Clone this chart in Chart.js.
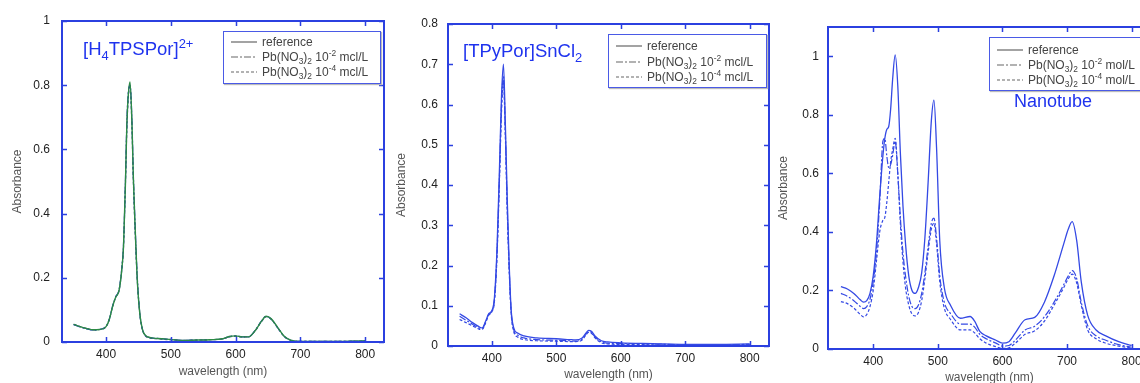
<!DOCTYPE html>
<html>
<head>
<meta charset="utf-8">
<script src="https://cdn.jsdelivr.net/npm/chart.js@4.4.0/dist/chart.umd.min.js"></script>
<style>
html, body { margin: 0; padding: 0; background: #fff; overflow: hidden; width: 1140px; height: 383px; }
body { position: relative; font-family: "Liberation Sans", Arial, sans-serif; }
canvas { position: absolute; top: 0; }
.legend { position: absolute; border: 1.5px solid #4a5ae6; box-shadow: 1px 1px 1px #bbb; background: #fff; font-size: 12px; color: #444; z-index: 2; }
.legend .row { position: absolute; left: 0; height: 14px; white-space: nowrap; }
.legend svg { position: absolute; left: 7px; top: 3px; }
.legend .t { position: absolute; left: 38px; top: 0; line-height: 14px; }
sub, sup { font-size: 70%; line-height: 0; }
.title { position: absolute; color: #1f33ee; font-size: 18.5px; white-space: nowrap; z-index: 2; }
</style>
</head>
<body>
<canvas id="c1" width="392" height="383" style="left:0px"></canvas>
<canvas id="c2" width="388" height="383" style="left:390px"></canvas>
<canvas id="c3" width="384" height="383" style="left:776px"></canvas>

<div class="title" style="left:83px;top:38px">[H<sub>4</sub>TPSPor]<sup>2+</sup></div>
<div class="title" style="left:463px;top:40px">[TPyPor]SnCl<sub>2</sub></div>
<div class="title" style="left:1014px;top:91px;font-size:18px">Nanotube</div>

<div id="lg1" class="legend" style="left:223px;top:31px;width:156px;height:51px"></div>
<div id="lg2" class="legend" style="left:608px;top:34px;width:157px;height:52px"></div>
<div id="lg3" class="legend" style="left:989px;top:37px;width:170px;height:52px"></div>

<script>
// ---- data (wavelength in nm, absorbance) ----

// [H4TPSPor]2+
var wl1 = [350,360,370,380,390,400,405,410,415,420,424,427,430,432,434,437,440,442,445,448,452,456,460,470,480,500,520,540,560,580,590,600,610,620,630,640,647,655,665,675,685,700,750,800];
var ref1 = [0.055,0.048,0.042,0.038,0.039,0.048,0.07,0.11,0.14,0.16,0.22,0.30,0.50,0.67,0.76,0.81,0.68,0.52,0.35,0.20,0.09,0.04,0.022,0.013,0.011,0.008,0.005,0.006,0.007,0.010,0.017,0.019,0.016,0.016,0.035,0.065,0.080,0.072,0.045,0.018,0.006,0.002,0.002,0.003];
var pbHigh1 = [0.054,0.047,0.041,0.037,0.039,0.049,0.071,0.112,0.142,0.162,0.225,0.31,0.51,0.68,0.77,0.80,0.69,0.53,0.36,0.21,0.092,0.041,0.022,0.013,0.011,0.008,0.005,0.006,0.007,0.010,0.017,0.019,0.016,0.016,0.036,0.066,0.080,0.071,0.044,0.017,0.006,0.002,0.002,0.003];
var pbLow1 = [0.055,0.048,0.042,0.038,0.039,0.048,0.070,0.110,0.140,0.160,0.220,0.30,0.50,0.66,0.75,0.80,0.67,0.51,0.34,0.20,0.090,0.040,0.021,0.012,0.010,0.007,0.005,0.006,0.007,0.010,0.016,0.018,0.016,0.016,0.035,0.064,0.079,0.071,0.044,0.017,0.005,0.002,0.002,0.003];

// [TPyPor]SnCl2
var wl2 = [350,360,370,380,385,390,395,400,404,408,412,415,418,421,424,427,430,434,440,450,470,500,520,530,540,545,550,555,560,570,580,600,650,700,750,800];
var ref2 = [0.080,0.070,0.058,0.048,0.045,0.060,0.080,0.088,0.120,0.240,0.450,0.620,0.700,0.550,0.360,0.200,0.090,0.045,0.032,0.025,0.020,0.018,0.016,0.015,0.020,0.030,0.039,0.036,0.025,0.013,0.010,0.008,0.006,0.004,0.004,0.005];
var pbHigh2 = [0.074,0.064,0.054,0.045,0.043,0.058,0.078,0.086,0.115,0.230,0.430,0.600,0.670,0.530,0.340,0.190,0.085,0.040,0.027,0.020,0.016,0.014,0.013,0.012,0.017,0.027,0.036,0.033,0.022,0.010,0.007,0.006,0.005,0.003,0.003,0.004];
var pbLow2 = [0.066,0.058,0.050,0.042,0.041,0.056,0.076,0.085,0.110,0.220,0.420,0.580,0.655,0.520,0.330,0.185,0.080,0.036,0.022,0.016,0.013,0.012,0.011,0.011,0.015,0.025,0.034,0.031,0.020,0.008,0.005,0.004,0.003,0.002,0.002,0.003];

// Nanotube
var wl3 = [350,360,370,380,385,390,395,400,405,410,415,418,421,424,427,430,434,438,442,446,450,455,460,465,470,475,480,485,490,494,498,503,510,520,535,550,557,565,575,590,600,610,620,635,650,665,680,695,702,708,715,722,732,745,760,780,800];
var ref3 = [0.213,0.205,0.190,0.168,0.160,0.165,0.190,0.250,0.360,0.520,0.660,0.720,0.750,0.760,0.820,0.920,1.005,0.900,0.670,0.490,0.360,0.250,0.200,0.190,0.210,0.260,0.380,0.570,0.780,0.850,0.690,0.370,0.210,0.148,0.105,0.111,0.095,0.060,0.045,0.030,0.020,0.025,0.055,0.100,0.108,0.160,0.250,0.360,0.410,0.435,0.370,0.230,0.115,0.065,0.045,0.025,0.012];
var pbHigh3 = [0.190,0.180,0.165,0.145,0.138,0.145,0.170,0.230,0.330,0.500,0.710,0.720,0.660,0.620,0.630,0.660,0.710,0.600,0.450,0.330,0.250,0.180,0.145,0.138,0.150,0.190,0.260,0.350,0.430,0.447,0.380,0.250,0.160,0.120,0.085,0.085,0.075,0.050,0.035,0.020,0.010,0.012,0.030,0.065,0.078,0.110,0.160,0.220,0.250,0.268,0.240,0.160,0.080,0.045,0.030,0.015,0.006];
var pbLow3 = [0.162,0.155,0.140,0.118,0.110,0.118,0.145,0.200,0.300,0.400,0.440,0.450,0.500,0.570,0.640,0.680,0.720,0.600,0.430,0.300,0.210,0.150,0.120,0.113,0.125,0.165,0.240,0.330,0.410,0.430,0.360,0.230,0.140,0.100,0.065,0.065,0.055,0.035,0.020,0.008,0.002,0.004,0.020,0.050,0.062,0.095,0.150,0.210,0.240,0.256,0.225,0.150,0.065,0.035,0.020,0.010,0.003];

// axis ticks
var xTicks = [400, 500, 600, 700, 800];
var yTicks1 = [0, 0.2, 0.4, 0.6, 0.8, 1];
var yTicks2 = [0, 0.1, 0.2, 0.3, 0.4, 0.5, 0.6, 0.7, 0.8];
var yTicks3 = [0, 0.2, 0.4, 0.6, 0.8, 1];

// legend entries
var legendLabels = [
    'reference',
    'Pb(NO<sub>3</sub>)<sub>2</sub> 10<sup>-2</sup> mcl/L',
    'Pb(NO<sub>3</sub>)<sub>2</sub> 10<sup>-4</sup> mcl/L'
];
var legendLabels3 = [
    'reference',
    'Pb(NO<sub>3</sub>)<sub>2</sub> 10<sup>-2</sup> mol/L',
    'Pb(NO<sub>3</sub>)<sub>2</sub> 10<sup>-4</sup> mol/L'
];

var frameColor = '#2b40e0';
var solid = [], dashDot = [7, 2, 2, 2], dashed = [3, 2];

Chart.defaults.font.family = "'Liberation Sans', Arial, sans-serif";

// frame round the plot area with inward ticks on all four sides
var frameTicks = {
    id: 'frameTicks',
    afterDatasetsDraw: function(chart) {
        var ctx = chart.ctx, a = chart.chartArea;
        var x = chart.scales.x, y = chart.scales.y;
        ctx.save();
        ctx.strokeStyle = frameColor;
        ctx.lineWidth = 1.5;
        ctx.beginPath();
        x.ticks.forEach(function(t) {
            var px = Math.round(x.getPixelForValue(t.value)) + 0.5;
            ctx.moveTo(px, a.bottom); ctx.lineTo(px, a.bottom - 5);
            ctx.moveTo(px, a.top); ctx.lineTo(px, a.top + 5);
        });
        y.ticks.forEach(function(t) {
            var py = Math.round(y.getPixelForValue(t.value)) + 0.5;
            ctx.moveTo(a.left, py); ctx.lineTo(a.left + 5, py);
            ctx.moveTo(a.right, py); ctx.lineTo(a.right - 5, py);
        });
        ctx.stroke();
        ctx.lineWidth = 2;
        ctx.strokeRect(a.left, a.top, a.right - a.left, a.bottom - a.top);
        ctx.restore();
    }
};

function makeChart(id, cfg) {
    var datasets = cfg.series.map(function(s) {
        return {
            label: s.label,
            data: cfg.wl.map(function(w, i) { return {x: w, y: s.values[i]}; }),
            borderColor: s.color,
            borderWidth: s.width,
            borderDash: s.dash,
            pointRadius: 0,
            fill: false,
            cubicInterpolationMode: 'monotone'
        };
    });
    return new Chart(document.getElementById(id), {
        type: 'line',
        data: { datasets: datasets },
        options: {
            responsive: false,
            animation: false,
            events: [],
            layout: { padding: { top: cfg.padTop, right: cfg.padRight, left: 0, bottom: 0 } },
            plugins: { legend: { display: false }, tooltip: { enabled: false } },
            scales: {
                x: {
                    type: 'linear', min: cfg.xMin, max: cfg.xMax,
                    grid: { display: false, drawTicks: false }, border: { display: false },
                    afterBuildTicks: function(s) { s.ticks = xTicks.map(function(v) { return {value: v}; }); },
                    afterFit: function(s) { s.height = cfg.xH; },
                    ticks: { color: '#222', font: { size: 12 }, padding: cfg.xTickPad, maxRotation: 0,
                             callback: function(v) { return String(v); } },
                    title: { display: true, text: 'wavelength (nm)', color: '#555', font: { size: 12 },
                             padding: { top: 0, bottom: cfg.xTitlePad } }
                },
                y: {
                    type: 'linear', min: 0, max: cfg.yMax,
                    grid: { display: false, drawTicks: false }, border: { display: false },
                    afterBuildTicks: function(s) { s.ticks = cfg.yTicks.map(function(v) { return {value: v}; }); },
                    afterFit: function(s) { s.width = cfg.yW; },
                    ticks: { color: '#222', font: { size: 12 }, padding: cfg.yTickPad,
                             callback: function(v) { return String(v); } },
                    title: { display: true, text: 'Absorbance', color: '#555', font: { size: 12 },
                             padding: { top: cfg.yTitlePad, bottom: 0 } }
                }
            }
        },
        plugins: [frameTicks]
    });
}

makeChart('c1', {
    wl: wl1, xMin: 332, xMax: 829, yMax: 1, yTicks: yTicks1,
    yW: 62, xH: 41, padTop: 21, padRight: 8, xTickPad: 5, xTitlePad: 4, yTitlePad: 10, yTickPad: 12,
    series: [
        { label: 'reference', values: ref1, color: '#2c8a45', width: 1.4, dash: solid },
        { label: 'Pb(NO3)2 10-2', values: pbHigh1, color: '#2840d0', width: 1.2, dash: dashDot },
        { label: 'Pb(NO3)2 10-4', values: pbLow1, color: '#1b2a80', width: 1.2, dash: dashed }
    ]
});

makeChart('c2', {
    wl: wl2, xMin: 332, xMax: 830, yMax: 0.8, yTicks: yTicks2,
    yW: 58, xH: 37, padTop: 24, padRight: 9, xTickPad: 5, xTitlePad: 1, yTitlePad: 4, yTickPad: 10,
    series: [
        { label: 'reference', values: ref2, color: '#3449e4', width: 1.3, dash: solid },
        { label: 'Pb(NO3)2 10-2', values: pbHigh2, color: '#3449e4', width: 1.2, dash: dashDot },
        { label: 'Pb(NO3)2 10-4', values: pbLow2, color: '#3449e4', width: 1.2, dash: dashed }
    ]
});

makeChart('c3', {
    wl: wl3, xMin: 330, xMax: 830, yMax: 1.1, yTicks: yTicks3,
    yW: 52, xH: 34, padTop: 27, padRight: 9, xTickPad: 5, xTitlePad: -2, yTitlePad: 0, yTickPad: 9,
    series: [
        { label: 'reference', values: ref3, color: '#3449e4', width: 1.3, dash: solid },
        { label: 'Pb(NO3)2 10-2', values: pbHigh3, color: '#3449e4', width: 1.2, dash: dashDot },
        { label: 'Pb(NO3)2 10-4', values: pbLow3, color: '#3449e4', width: 1.2, dash: dashed }
    ]
});

// legend boxes (HTML so the sub/superscripts stay real text)
function fillLegend(id, labels, rowTops) {
    var dashes = ['', '7,2,2,2', '3,2'];
    var html = '';
    labels.forEach(function(lab, i) {
        html += '<div class="row" style="top:' + rowTops[i] + 'px">' +
            '<svg width="26" height="8"><line x1="0" y1="4" x2="26" y2="4" stroke="#666" stroke-width="1.2"' +
            (dashes[i] ? ' stroke-dasharray="' + dashes[i] + '"' : '') + '/></svg>' +
            '<span class="t">' + lab + '</span></div>';
    });
    document.getElementById(id).innerHTML = html;
}
fillLegend('lg1', legendLabels, [3, 18, 33]);
fillLegend('lg2', legendLabels, [4, 20, 35]);
fillLegend('lg3', legendLabels3, [5, 20, 35]);
</script>
</body>
</html>
